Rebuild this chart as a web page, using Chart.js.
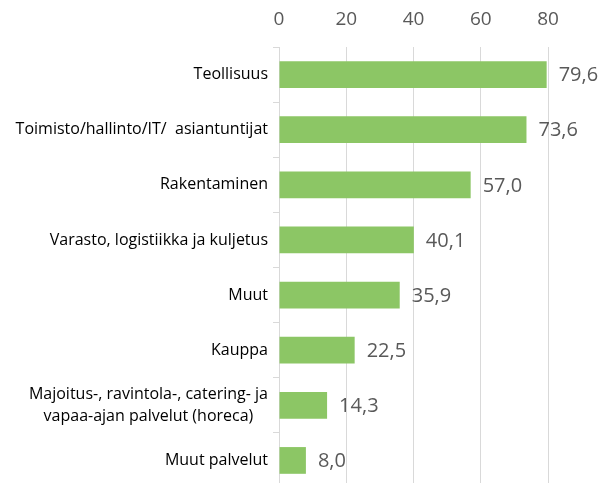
<!DOCTYPE html>
<html>
<head>
<meta charset="utf-8">
<script src="https://cdn.jsdelivr.net/npm/chart.js@4"></script>
<style>
  html, body { margin: 0; padding: 0; background: #fff; overflow: hidden; }
  #wrap { width: 607px; height: 488px; position: relative; }
</style>
</head>
<body>
<div id="wrap"><canvas id="chart"></canvas></div>
<script>
const categories = [
  ["Teollisuus"],
  ["Toimisto/hallinto/IT/  asiantuntijat"],
  ["Rakentaminen"],
  ["Varasto, logistiikka ja kuljetus"],
  ["Muut"],
  ["Kauppa"],
  ["Majoitus-, ravintola-, catering- ja", "vapaa-ajan palvelut (horeca)"],
  ["Muut palvelut"]
];
const values = [79.6, 73.6, 57.0, 40.1, 35.9, 22.5, 14.3, 8.0];
const xTicks = [0, 20, 40, 60, 80];

const gridColor = '#d9d9d9';
const textGray = '#595959';

// category labels on the left, multi-line centred like the original
const categoryLabels = {
  id: 'categoryLabels',
  afterDraw(chart) {
    const ctx = chart.ctx;
    const meta = chart.getDatasetMeta(0);
    const right = chart.chartArea.left - 11;
    const lineH = 22;
    ctx.save();
    ctx.font = '16px "Open Sans"';
    ctx.fillStyle = '#000';
    ctx.textBaseline = 'middle';
    ctx.textAlign = 'center';
    meta.data.forEach((bar, i) => {
      const lines = categories[i];
      const w = Math.max(...lines.map(l => ctx.measureText(l).width));
      const cx = right - w / 2;
      const y0 = bar.y - (lines.length - 1) * lineH / 2;
      lines.forEach((l, j) => ctx.fillText(l, cx, y0 + j * lineH));
    });
    ctx.restore();
  }
};

// x tick labels above the plot
const topTicks = {
  id: 'topTicks',
  afterDraw(chart) {
    const ctx = chart.ctx;
    const xs = chart.scales.x;
    ctx.save();
    ctx.font = '19px "Open Sans"';
    ctx.fillStyle = textGray;
    ctx.textBaseline = 'middle';
    ctx.textAlign = 'center';
    xTicks.forEach(v => ctx.fillText(String(v), xs.getPixelForValue(v), chart.chartArea.top - 27));
    ctx.restore();
  }
};

// value labels right of each bar
const valueLabels = {
  id: 'valueLabels',
  afterDatasetsDraw(chart) {
    const ctx = chart.ctx;
    const meta = chart.getDatasetMeta(0);
    ctx.save();
    ctx.font = '20px "Open Sans"';
    ctx.fillStyle = textGray;
    ctx.textBaseline = 'middle';
    ctx.textAlign = 'left';
    meta.data.forEach((bar, i) => {
      ctx.fillText(values[i].toFixed(1).replace('.', ','), bar.x + 12, bar.y + 1);
    });
    ctx.restore();
  }
};

new Chart(document.getElementById('chart'), {
  type: 'bar',
  data: {
    labels: categories.map(c => c.join(' ')),
    datasets: [{
      data: values,
      backgroundColor: '#8cc665',
      barPercentage: 0.485,
      categoryPercentage: 1
    }]
  },
  options: {
    indexAxis: 'y',
    responsive: true,
    maintainAspectRatio: false,
    animation: false,
    events: [],
    layout: { padding: { left: 273, right: 59, top: 47, bottom: 0 } },
    plugins: {
      legend: { display: false },
      tooltip: { enabled: false }
    },
    scales: {
      x: {
        position: 'top',
        min: 0,
        max: 80,
        afterBuildTicks: axis => { axis.ticks = xTicks.map(v => ({ value: v })); },
        ticks: { display: false },
        grid: { color: gridColor, drawTicks: false },
        border: { display: false }
      },
      y: {
        ticks: { display: false },
        grid: {
          offset: true,
          drawOnChartArea: false,
          tickLength: 6,
          color: gridColor
        },
        border: { display: true, color: gridColor }
      }
    }
  },
  plugins: [categoryLabels, topTicks, valueLabels]
});
</script>
</body>
</html>
